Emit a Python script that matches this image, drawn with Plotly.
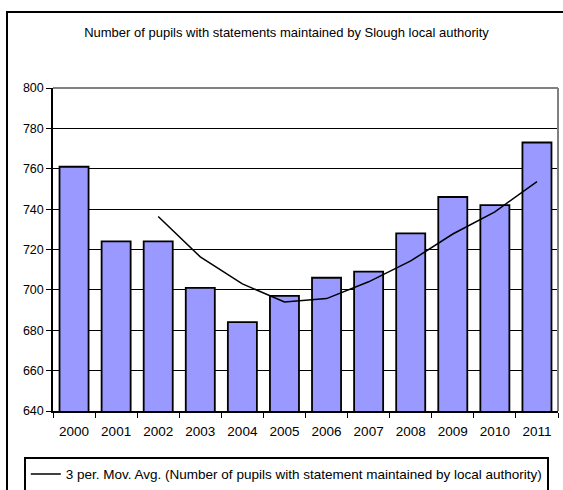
import plotly.graph_objects as go
import pandas as pd

years = ["2000", "2001", "2002", "2003", "2004", "2005", "2006", "2007", "2008", "2009", "2010", "2011"]
pupils = [761, 724, 724, 701, 684, 697, 706, 709, 728, 746, 742, 773]
title_text = "Number of pupils with statements maintained by Slough local authority"
legend_text = "3 per. Mov. Avg. (Number of pupils with statement maintained by local authority)"

# Excel-style 3-period moving average trendline of the bar values
mov_avg = pd.Series(pupils).rolling(3).mean().tolist()

W, H = 563, 490
L, R, T, B = 53, 5, 88, 79
pw, ph = W - L - R, H - T - B

def px(x):
    return (x - L) / pw

def py(y):
    return (H - B - y) / ph

FONT = "Liberation Sans, Arial, sans-serif"

fig = go.Figure()
fig.add_trace(go.Bar(
    x=years, y=pupils, name="Number of pupils",
    marker=dict(color="#9999FF", line=dict(color="black", width=1.8)),
    showlegend=False,
))
fig.add_trace(go.Scatter(
    x=years, y=mov_avg, mode="lines", name=legend_text,
    line=dict(color="black", width=1.5),
    connectgaps=False,
))

fig.update_layout(
    width=W, height=H,
    margin=dict(l=L, r=R, t=T, b=B, autoexpand=False),
    paper_bgcolor="white", plot_bgcolor="white",
    font=dict(family=FONT, size=12, color="black"),
    bargap=0.31,
    title=dict(text=title_text, x=286.5 / W, xref="container", xanchor="center",
               y=1 - 32 / H, yanchor="middle", font=dict(size=13)),
    xaxis=dict(type="category", showline=True, linecolor="black", linewidth=1.5,
               ticks="outside", tickson="boundaries", ticklen=5, tickcolor="black",
               tickfont=dict(size=13.5), showgrid=False, ticklabelstandoff=7,
               automargin=False),
    yaxis=dict(range=[640, 800], dtick=20, showline=True, linecolor="black", linewidth=1.5,
               ticks="outside", ticklen=5, tickcolor="black", showgrid=True,
               gridcolor="black", gridwidth=1.3, tickfont=dict(size=12.5), zeroline=False,
               automargin=False),
    legend=dict(x=px(24), y=py(457), xanchor="left", yanchor="top",
                bordercolor="black", borderwidth=1.8, bgcolor="white",
                font=dict(size=13.5), itemwidth=30),
    shapes=[
        dict(type="line", xref="paper", yref="paper", x0=0, x1=1, y0=1, y1=1,
             line=dict(color="#808080", width=2)),
        dict(type="line", xref="paper", yref="paper", x0=1, x1=1, y0=0, y1=1,
             line=dict(color="#808080", width=2)),
        dict(type="rect", xref="paper", yref="paper", x0=px(7), x1=px(575),
             y0=py(500), y1=py(12), line=dict(color="black", width=2)),
    ],
)

fig.write_html("out.html")
